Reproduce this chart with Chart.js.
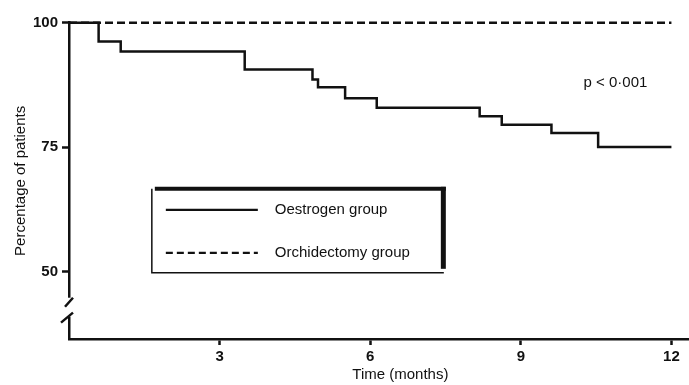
<!DOCTYPE html>
<html>
<head>
<meta charset="utf-8">
<script src="https://cdn.jsdelivr.net/npm/chart.js@4.4.1/dist/chart.umd.min.js"></script>
<style>
html,body{margin:0;padding:0;background:#fff;}
#wrap{width:689px;height:385px;}
</style>
</head>
<body>
<div id="wrap"><canvas id="c" width="689" height="385"></canvas></div>
<script>
// survival curves, time in months, % of patients alive
const oestrogenTime = [0, 0.59, 1.03, 3.50, 4.85, 4.96, 5.50, 6.13, 8.18, 8.62, 9.61, 10.54, 12];
const oestrogenPct  = [100, 96.2, 94.2, 90.6, 88.6, 87.0, 84.8, 82.9, 81.2, 79.5, 77.8, 75.0, 75.0];
const orchidTime = [0, 12];
const orchidPct  = [100, 100];
const seriesNames = ['Oestrogen group', 'Orchidectomy group'];
const xTicks = [3, 6, 9, 12];
const yTicks = [50, 75, 100];
const xTitle = 'Time (months)';
const yTitle = 'Percentage of patients';
const pText = 'p < 0\u00b7001';

const ink = '#111';
const fam = "'Liberation Sans', Arial, sans-serif";

function pts(xs, ys){ return xs.map((x,i) => ({x:x, y:ys[i]})); }

// axis break, legend box, p value and x title
const extras = {
	id: 'extras',
	afterDraw(chart){
		const ctx = chart.ctx, xs = chart.scales.x, ys = chart.scales.y;
		const ax = chart.chartArea.left;
		ctx.save();
		// break in the y axis
		const yA = ys.getPixelForValue(44.7), yB = ys.getPixelForValue(40.9);
		ctx.fillStyle = '#fff';
		ctx.fillRect(ax - 3, yA, 6, yB - yA);
		ctx.strokeStyle = ink;
		ctx.lineWidth = 2.5;
		ctx.lineCap = 'butt';
		ctx.beginPath();
		ctx.moveTo(ax - 4, yA + 9); ctx.lineTo(ax + 4, yA);
		ctx.moveTo(ax - 8, yB + 6); ctx.lineTo(ax + 4, yB - 4);
		ctx.stroke();

		// legend box
		const L = xs.getPixelForValue(1.65), T = ys.getPixelForValue(67);
		const R = L + 294, B = T + 86;
		ctx.fillStyle = '#fff';
		ctx.fillRect(L, T, R - L, B - T);
		ctx.strokeStyle = ink;
		ctx.lineWidth = 1.5;
		ctx.beginPath();
		ctx.moveTo(L, T + 2); ctx.lineTo(L, B); ctx.lineTo(R - 2, B);
		ctx.stroke();
		ctx.lineWidth = 4;
		ctx.beginPath(); ctx.moveTo(L + 3, T + 2); ctx.lineTo(R, T + 2); ctx.stroke();
		ctx.lineWidth = 5;
		ctx.beginPath(); ctx.moveTo(R - 2.5, T); ctx.lineTo(R - 2.5, B - 4); ctx.stroke();

		const rows = [T + 23, T + 66];
		chart.data.datasets.forEach((ds, i) => {
			ctx.strokeStyle = ds.borderColor;
			ctx.lineWidth = 2.2;
			ctx.setLineDash(i === 1 ? [7, 4] : []);
			ctx.beginPath(); ctx.moveTo(L + 14, rows[i]); ctx.lineTo(L + 106, rows[i]); ctx.stroke();
			ctx.setLineDash([]);
			ctx.fillStyle = ink;
			ctx.font = '15px ' + fam;
			ctx.textBaseline = 'middle';
			ctx.textAlign = 'left';
			ctx.fillText(ds.label, L + 123, rows[i]);
		});

		// p value
		ctx.font = '15px ' + fam;
		ctx.fillText(pText, xs.getPixelForValue(10.25), ys.getPixelForValue(88));

		// x title
		ctx.textAlign = 'center';
		ctx.fillText(xTitle, xs.getPixelForValue(6.6), chart.chartArea.bottom + 36);
		ctx.restore();
	}
};

new Chart(document.getElementById('c'), {
	type: 'line',
	data: {
		datasets: [
			{label: seriesNames[0], data: pts(oestrogenTime, oestrogenPct), borderColor: ink, borderWidth: 2.5, stepped: 'before', pointRadius: 0, clip: false, order: 0},
			{label: seriesNames[1], data: pts(orchidTime, orchidPct), borderColor: ink, borderWidth: 2.5, borderDash: [8, 4], pointRadius: 0, clip: false, order: 1}
		]
	},
	options: {
		responsive: false,
		animation: false,
		devicePixelRatio: 1,
		layout: {padding: {top: 22.7, right: 0, bottom: 0, left: 0}},
		plugins: {legend: {display: false}, tooltip: {enabled: false}},
		scales: {
			x: {
				type: 'linear', min: 0, max: 12.35,
				afterBuildTicks: s => { s.ticks = xTicks.map(v => ({value: v})); },
				afterFit: s => { s.height = 46; },
				grid: {drawOnChartArea: false, drawTicks: true, tickLength: 6, tickWidth: 2.5, tickColor: ink},
				border: {display: true, color: ink, width: 2.5},
				ticks: {color: ink, font: {family: fam, size: 15, weight: 'bold'}, padding: 3, maxRotation: 0, autoSkip: false}
			},
			y: {
				type: 'linear', min: 36.4, max: 100,
				afterBuildTicks: s => { s.ticks = yTicks.map(v => ({value: v})); },
				afterFit: s => { s.width = 69; },
				grid: {drawOnChartArea: false, drawTicks: true, tickLength: 7, tickWidth: 2.5, tickColor: ink},
				border: {display: true, color: ink, width: 2.5},
				ticks: {color: ink, font: {family: fam, size: 15, weight: 'bold'}, padding: 4, autoSkip: false},
				title: {display: true, text: yTitle, color: ink, font: {family: fam, size: 15}, padding: {top: 12, bottom: 0}}
			}
		}
	},
	plugins: [extras]
});
</script>
</body>
</html>
